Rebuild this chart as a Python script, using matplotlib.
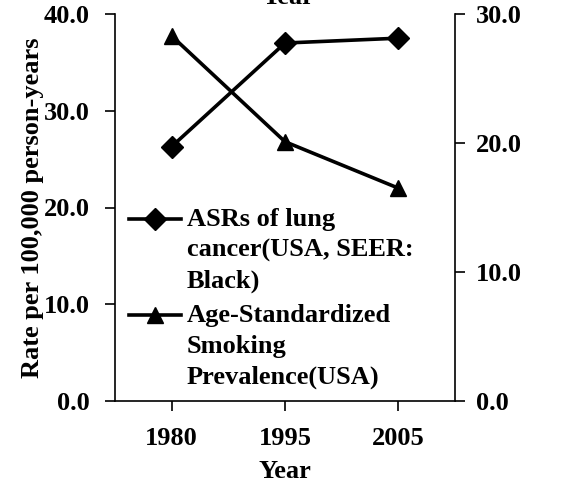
import matplotlib
matplotlib.use("Agg")
import matplotlib.pyplot as plt

years = ["1980", "1995", "2005"]
asr_lung = [26.3, 37.0, 37.5]
smoking = [28.3, 20.1, 16.5]
left_ticks = [0, 10, 20, 30, 40]
right_ticks = [0, 10, 20, 30]

plt.rcParams['font.family'] = ['Liberation Serif', 'DejaVu Serif']
plt.rcParams['font.weight'] = 'bold'
plt.rcParams['font.size'] = 19

fig = plt.figure(figsize=(5.63, 4.83), dpi=100)
ax = fig.add_axes([115/563, 1 - 401/483, 340/563, 387/483])
ax2 = ax.twinx()

x = list(range(len(years)))
l1, = ax.plot(x, asr_lung, color='black', lw=2.6, marker='D', markersize=11,
              label='ASRs of lung\ncancer(USA, SEER:\nBlack)')
l2, = ax2.plot(x, smoking, color='black', lw=2.6, marker='^', markersize=12,
               label='Age-Standardized\nSmoking\nPrevalence(USA)')

ax.set_xlim(-0.5, 2.5)
ax.set_ylim(0, 40)
ax2.set_ylim(0, 30)
ax.set_xticks(x)
ax.set_xticklabels(years, fontweight='bold')
ax.set_yticks(left_ticks)
ax.set_yticklabels([f"{v:.1f}" for v in left_ticks], fontweight='bold')
ax2.set_yticks(right_ticks)
ax2.set_yticklabels([f"{v:.1f}" for v in right_ticks], fontweight='bold')

for a in (ax, ax2):
    a.spines['top'].set_visible(False)
    for s in a.spines.values():
        s.set_linewidth(1.2)
ax.spines['right'].set_visible(False)
ax2.spines['left'].set_visible(False)
ax2.spines['bottom'].set_visible(False)

ax.tick_params(axis='y', direction='out', length=7, width=1.2, pad=11)
ax2.tick_params(axis='y', direction='out', length=7, width=1.2, pad=8)
ax.tick_params(axis='x', direction='out', length=7, width=1.2, pad=12)

ax.set_xlabel('Year', fontweight='bold', labelpad=7)
ax.set_ylabel('Rate per 100,000 person-years', fontweight='bold', labelpad=0)
fig.text(288/563, 1 - 4/483, 'Year', ha='center', va='baseline',
         fontweight='bold', fontsize=19)

leg = ax.legend(handles=[l1, l2], loc='upper left', bbox_to_anchor=(-0.03, 0.56),
                frameon=False, handlelength=2.0, handletextpad=0.2,
                labelspacing=0.42, handleheight=1.1,
                prop={'weight': 'bold', 'size': 19})
for t in leg.get_texts():
    t.set_linespacing(1.42)
for col in leg._legend_handle_box.get_children():
    for hp in col.get_children():
        hp.align = 'top'

fig.savefig('out.png', dpi=100)
